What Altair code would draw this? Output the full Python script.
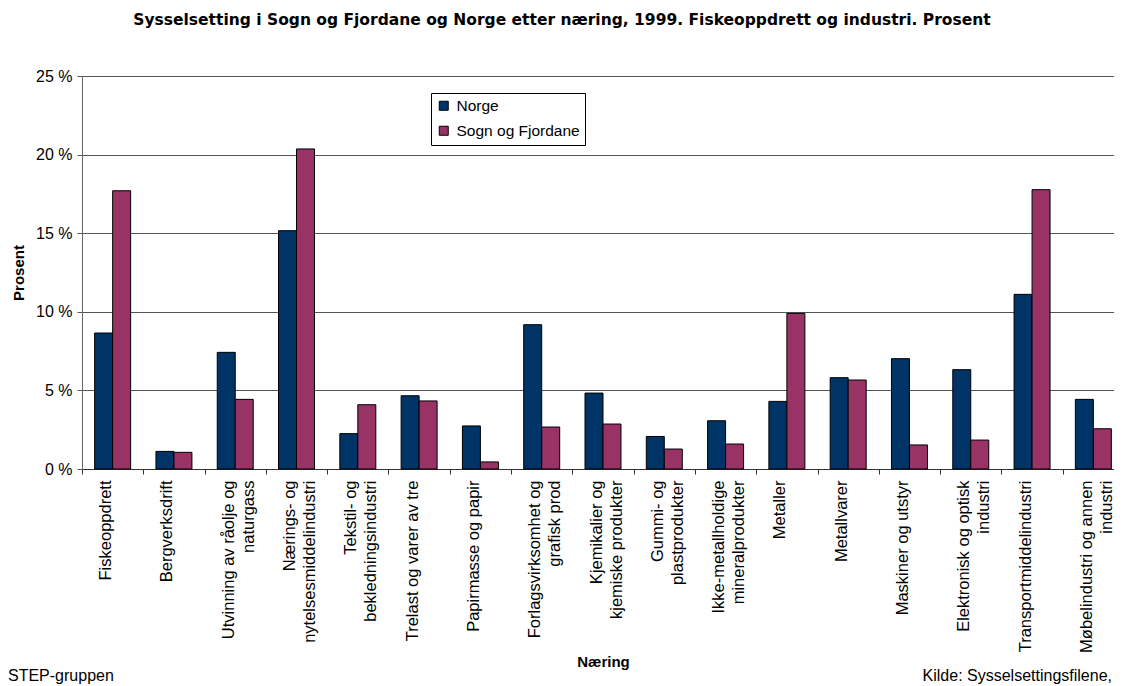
import altair as alt
import pandas as pd

categories = [
    "Fiskeoppdrett",
    "Bergverksdrift",
    "Utvinning av råolje og\nnaturgass",
    "Nærings- og\nnytelsesmiddelindustri",
    "Tekstil- og\nbekledningsindustri",
    "Trelast og varer av tre",
    "Papirmasse og papir",
    "Forlagsvirksomhet og\ngrafisk prod",
    "Kjemikalier og\nkjemiske produkter",
    "Gummi- og\nplastprodukter",
    "Ikke-metallholdige\nmineralprodukter",
    "Metaller",
    "Metallvarer",
    "Maskiner og utstyr",
    "Elektronisk og optisk\nindustri",
    "Transportmiddelindustri",
    "Møbelindustri og annen\nindustri",
]
norge = [8.65, 1.12, 7.42, 15.16, 2.25, 4.66, 2.74, 9.18, 4.83, 2.07, 3.07,
         4.30, 5.81, 7.02, 6.32, 11.11, 4.43]
sogn = [17.70, 1.06, 4.43, 20.36, 4.09, 4.33, 0.45, 2.67, 2.86, 1.27, 1.59,
        9.90, 5.66, 1.53, 1.84, 17.77, 2.56]
series = ["Norge", "Sogn og Fjordane"]
colors = ["#003366", "#993366"]
y_ticks = [0, 5, 10, 15, 20, 25]

title_text = "Sysselsetting i Sogn og Fjordane og Norge etter næring, 1999. Fiskeoppdrett og industri. Prosent"
footer_left = "STEP-gruppen"
footer_right = "Kilde: Sysselsettingsfilene,"

rows = []
for c, n, s in zip(categories, norge, sogn):
    rows.append({"Næring": c, "Serie": series[0], "Prosent": n})
    rows.append({"Næring": c, "Serie": series[1], "Prosent": s})
df = pd.DataFrame(rows)

FONT = "Liberation Sans"
W, H = 1042, 393

bars = alt.Chart(df).mark_bar(stroke="black", strokeWidth=1).encode(
    x=alt.X(
        "Næring:N",
        sort=categories,
        scale=alt.Scale(paddingInner=0, paddingOuter=0),
        axis=alt.Axis(
            title="Næring",
            labelAngle=-90,
            labelExpr="split(datum.label, '\\n')",
            labelLimit=0,
            labelFont=FONT,
            labelFontSize=16.5,
            labelColor="black",
            labelLineHeight=20,
            labelPadding=6,
            labelOffset=-7,
            tickBand="extent",
            tickSize=5,
            tickColor="#333333",
            domainColor="#333333",
            titleFont=FONT,
            titleFontSize=15,
            titleFontWeight="bold",
            titleColor="black",
            titleY=192,
            titleBaseline="middle",
        ),
    ),
    xOffset=alt.XOffset(
        "Serie:N",
        sort=series,
        scale=alt.Scale(paddingInner=0, paddingOuter=0.703),
    ),
    y=alt.Y(
        "Prosent:Q",
        scale=alt.Scale(domain=[0, 25], nice=False),
        axis=alt.Axis(
            title="Prosent",
            values=y_ticks,
            labelExpr="datum.value + ' %'",
            labelFont=FONT,
            labelFontSize=16,
            labelColor="black",
            labelPadding=5,
            tickSize=5,
            tickColor="#555555",
            domainColor="#666666",
            grid=True,
            gridColor="#555555",
            gridWidth=1,
            titleFont=FONT,
            titleFontSize=15,
            titleFontWeight="bold",
            titleColor="black",
            titleX=-64,
            titleY=196.5,
            titleAlign="center",
            titleBaseline="middle",
        ),
    ),
    color=alt.Color(
        "Serie:N",
        sort=series,
        scale=alt.Scale(domain=series, range=colors),
        legend=alt.Legend(
            title=None,
            orient="none",
            legendX=349,
            legendY=17,
            strokeColor="black",
            fillColor="white",
            padding=5,
            symbolType="square",
            symbolSize=81,
            symbolStrokeColor="black",
            symbolStrokeWidth=1,
            symbolOpacity=1,
            labelFont=FONT,
            labelFontSize=15.5,
            labelColor="black",
            labelOffset=5,
            rowPadding=8,
        ),
    ),
)

def note(text, x, y, align="center", bold=False, size=15, font=FONT):
    return alt.Chart(pd.DataFrame({"t": [text]})).mark_text(
        font=font, fontSize=size, fontWeight="bold" if bold else "normal",
        align=align, baseline="middle", color="black",
    ).encode(text="t:N", x=alt.value(x), y=alt.value(y))

chart = alt.layer(
    bars,
    note(title_text, 480, -56, bold=True, size=15.5, font="DejaVu Sans"),
    note(footer_left, -74, 600, align="left", size=16),
    note(footer_right, 1030, 600, align="right", size=16),
).properties(
    width=W,
    height=H,
    padding={"left": 74, "top": 68, "right": -10, "bottom": 217},
    autosize=alt.AutoSizeParams(type="none"),
    background="white",
).configure_view(stroke=None)

chart.save("out.html", embed_options={"renderer": "svg", "actions": False})
